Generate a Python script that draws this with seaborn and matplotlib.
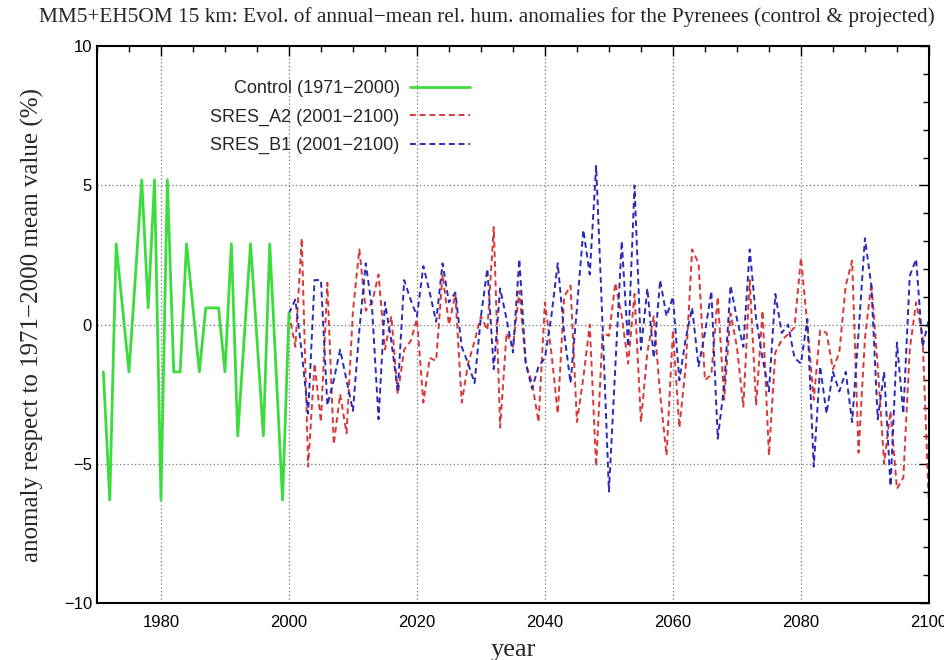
import numpy as np
import pandas as pd
import matplotlib
matplotlib.use("Agg")
import matplotlib.pyplot as plt
import seaborn as sns
from matplotlib.ticker import MultipleLocator

# control run 1971-2000
control_years = list(range(1971, 2001))
control_vals = [-1.7, -6.3, 2.9, 0.6, -1.7, 1.7, 5.2, 0.6, 5.2, -6.3,
                5.2, -1.7, -1.7, 2.9, 0.6, -1.7, 0.6, 0.6, 0.6, -1.7,
                2.9, -4.0, -0.5, 2.9, -0.5, -4.0, 2.9, -1.7, -6.3, 0.4]

# projections 2001-2100
proj_years = list(range(2001, 2101))
a2_vals = [-0.8, 3.1, -5.1, -1.4, -3.5, 1.5, -4.3, -2.5, -3.9, 0.5,
           2.7, 0.5, 0.8, 1.8, -0.9, 0.3, -2.5, -0.9, -0.6, 0.2,
           -2.8, -1.2, -1.3, 1.8, 0.0, 1.1, -2.8, -1.4, -0.6, 0.3,
           -0.2, 3.5, -3.7, -0.3, -0.8, 1.2, -1.4, -2.1, -3.5, 0.8,
           -1.0, -3.2, 1.0, 1.4, -3.5, -1.9, 0.0, -5.1, -0.3, -0.4,
           1.5, 0.3, -1.4, 1.1, -3.5, -1.0, 0.3, -2.5, -4.7, -0.2,
           -3.7, -1.5, 2.7, 2.2, -2.0, -1.8, 1.0, -2.7, 0.4, -0.8,
           -2.95, 1.6, -2.9, 0.5, -4.7, -1.0, -0.55, -0.35, -0.1, 2.4,
           0.0, -2.7, -0.2, -0.3, -1.6, -1.0, 1.4, 2.3, -4.6, -0.5,
           1.5, -1.5, -5.0, -3.1, -5.9, -5.5, -0.9, 0.8, -0.4, -6.5]
b1_vals = [0.9, -1.0, -3.2, 1.6, 1.6, -2.9, -2.0, -0.9, -2.0, -3.1,
           -0.2, 2.2, 0.55, -3.4, 0.8, -0.6, -2.4, 1.6, 0.9, 0.3,
           2.1, 1.15, 0.1, 2.2, 0.8, 1.15, -0.8, -1.4, -2.1, 0.3,
           2.0, -1.6, 1.3, 0.2, -1.0, 2.35, -1.4, -2.3, -1.5, -1.2,
           0.3, 2.2, -0.3, -2.1, 0.6, 3.4, 1.8, 5.7, 0.0, -6.0,
           -1.5, 3.0, -0.8, 5.0, -0.9, 1.3, -1.2, 1.6, 0.3, 1.0,
           -2.0, -0.5, 0.6, -1.5, -0.3, 1.2, -4.1, -2.2, 1.4, 0.2,
           -0.8, 2.7, 0.2, -1.2, -2.4, 1.1, -0.3, 0.0, -1.2, -1.4,
           0.2, -5.1, -1.5, -3.2, -1.7, -2.4, -1.7, -3.5, -0.3, 3.1,
           1.4, -3.4, -1.7, -5.8, -0.65, -3.2, 1.75, 2.35, -0.8, 0.2]

labels = ["Control (1971\u22122000)", "SRES_A2 (2001\u22122100)", "SRES_B1 (2001\u22122100)"]
colors = ["#3ddc3d", "#d93838", "#2a2ab8"]

sns.set_style("white")
plt.rcParams["font.family"] = ["Liberation Sans", "DejaVu Sans"]

fig = plt.figure(figsize=(9.45, 6.6), dpi=100)
ax = fig.add_axes([0.1026, 0.0864, 0.8804, 0.8436])

# scenarios start from the last control value
start = control_vals[-1]
sns.lineplot(x=[2000] + proj_years, y=[start] + a2_vals, ax=ax, color=colors[1],
             linewidth=1.4, linestyle=(0, (3, 2)), label=labels[1])
sns.lineplot(x=[2000] + proj_years, y=[start] + b1_vals, ax=ax, color=colors[2],
             linewidth=1.4, linestyle=(0, (3, 2)), label=labels[2])
sns.lineplot(x=control_years, y=control_vals, ax=ax, color=colors[0],
             linewidth=2.0, label=labels[0])

ax.set_xlim(1970, 2100)
ax.set_ylim(-10, 10)
ax.set_xticks(range(1980, 2101, 20))
ax.xaxis.set_minor_locator(MultipleLocator(5))
ax.set_yticks(range(-10, 11, 5))
ax.yaxis.set_minor_locator(MultipleLocator(1))
ax.tick_params(which="both", direction="in", top=True, right=True, colors="black",
               labelsize=12)
ax.tick_params(axis="x", pad=9)
ax.tick_params(which="major", length=7, width=1)
ax.tick_params(which="minor", length=4, width=1)
for s in ax.spines.values():
    s.set_color("black")
    s.set_linewidth(1.5)

for gx in range(1980, 2100, 20):
    ax.axvline(gx, color="#777777", linestyle=(0, (1, 2)), linewidth=0.9, zorder=0)
for gy in (-5, 0, 5):
    ax.axhline(gy, color="#777777", linestyle=(0, (1, 2)), linewidth=0.9, zorder=0)

ax.set_xlabel("year", family=["Liberation Serif"], fontsize=19, labelpad=6)
ax.set_ylabel("anomaly respect to 1971\u22122000 mean value (%)",
              family=["Liberation Serif"], fontsize=18, labelpad=14)
fig.suptitle("MM5+EH5OM 15 km: Evol. of annual\u2212mean rel. hum. anomalies for the Pyrenees (control & projected)",
             family=["Liberation Serif"], fontsize=15.3, x=0.515, y=0.99)

h, l = ax.get_legend_handles_labels()
order = [l.index(t) for t in labels]
ax.legend([h[i] for i in order], [l[i] for i in order], loc="upper right",
          bbox_to_anchor=(0.468, 0.968), frameon=False, markerfirst=False,
          fontsize=13, handlelength=3.3, handletextpad=0.6, labelspacing=0.62)

fig.savefig("out.png", dpi=100)
